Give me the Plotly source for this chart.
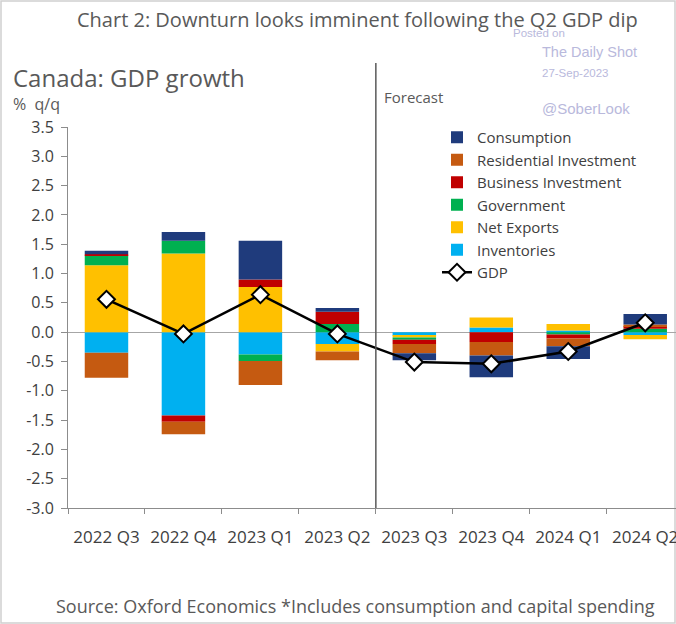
import plotly.graph_objects as go

categories = ["2022 Q3", "2022 Q4", "2023 Q1", "2023 Q2", "2023 Q3", "2023 Q4", "2024 Q1", "2024 Q2"]

inventories = [-0.35, -1.42, -0.38, -0.20, -0.06, 0.08, 0.03, -0.05]
net_exports = [1.14, 1.34, 0.77, -0.13, -0.03, 0.17, 0.11, -0.07]
government = [0.17, 0.22, -0.11, 0.14, -0.04, 0.00, -0.04, 0.06]
business_inv = [0.02, -0.11, 0.13, 0.21, -0.07, -0.17, -0.07, 0.04]
residential_inv = [-0.43, -0.21, -0.41, -0.15, -0.16, -0.23, -0.13, 0.03]
consumption = [0.06, 0.15, 0.66, 0.06, -0.12, -0.37, -0.22, 0.18]
gdp = [0.56, -0.03, 0.64, -0.03, -0.51, -0.54, -0.33, 0.16]

y_tick_vals = [3.5, 3.0, 2.5, 2.0, 1.5, 1.0, 0.5, 0.0, -0.5, -1.0, -1.5, -2.0, -2.5, -3.0]
y_tick_text = ["3.5", "3.0", "2.5", "2.0", "1.5", "1.0", "0.5", "0.0", "-0.5", "-1.0", "-1.5", "-2.0", "-2.5", "-3.0"]

W, H = 676, 624
L, R, T, B = 68, 0, 127, 116
PW, PH = W - L - R, H - T - B


def px(x):
    return (x - L) / PW


def py(y):
    return (H - B - y) / PH


FONT = "Open Sans"
TXT = "#595959"
WM = "#b9b9dc"

series = [
    ("Inventories", inventories, "#00B0F0", 6),
    ("Net Exports", net_exports, "#FFC000", 5),
    ("Government", government, "#00B050", 4),
    ("Business Investment", business_inv, "#C00000", 3),
    ("Residential Investment", residential_inv, "#C55A11", 2),
    ("Consumption", consumption, "#1F3B7C", 1),
]

fig = go.Figure()
for name, vals, col, rank in series:
    fig.add_trace(go.Bar(x=categories, y=vals, name=name, marker=dict(color=col, line=dict(width=0)),
                         legendrank=rank))

fig.add_trace(go.Scatter(x=categories, y=gdp, name="GDP", mode="lines+markers",
                         line=dict(color="black", width=2.5),
                         marker=dict(symbol="diamond", size=13, color="white",
                                     line=dict(color="black", width=2)),
                         legendrank=7))

fig.update_layout(
    width=W, height=H, autosize=False,
    margin=dict(l=L, r=R, t=T, b=B, autoexpand=False),
    paper_bgcolor="white", plot_bgcolor="white",
    barmode="relative", bargap=0.435,
    font=dict(family=FONT, color=TXT),
    showlegend=True,
    legend=dict(x=px(437), y=py(121), xanchor="left", yanchor="top",
                bgcolor="rgba(0,0,0,0)", font=dict(size=15, color="#404040"),
                itemwidth=30, tracegroupgap=0),
    xaxis=dict(type="category", range=[-0.5, 7.4], showline=True, linecolor="#8c8c8c", linewidth=1,
               ticks="outside", tickson="boundaries", ticklen=5, tickcolor="#8c8c8c",
               tickfont=dict(size=17, color="#404040"), showgrid=False, zeroline=False,
               ticklabelstandoff=14, tickangle=0, automargin=False, fixedrange=True),
    yaxis=dict(range=[-3.0, 3.5], tickvals=y_tick_vals, ticktext=y_tick_text,
               showline=True, linecolor="#8c8c8c", linewidth=1, ticks="outside", ticklen=6,
               tickcolor="#8c8c8c", tickfont=dict(size=16, color="#404040"), showgrid=False,
               zeroline=True, zerolinecolor="#a6a6a6", zerolinewidth=1, ticklabelstandoff=4,
               automargin=False, fixedrange=True),
)

# Forecast divider
fig.add_shape(type="line", xref="x", yref="paper", x0=3.5, x1=3.5, y0=0, y1=py(63),
              line=dict(color="#595959", width=1.5))
# Image border
fig.add_shape(type="rect", xref="paper", yref="paper", x0=px(1), x1=px(675), y0=py(623), y1=py(1),
              line=dict(color="#d0d0d0", width=1.5), fillcolor="rgba(0,0,0,0)", layer="below")


def note(text, x, y, size, color=TXT, family=FONT, anchor="left"):
    fig.add_annotation(text=text, x=px(x), y=py(y), xref="paper", yref="paper",
                       xanchor=anchor, yanchor="middle", showarrow=False,
                       font=dict(size=size, color=color, family=family), borderpad=0)


note("Chart 2: Downturn looks imminent following the Q2 GDP dip", 357, 19, 20, anchor="center")
note("Canada: GDP growth", 12, 78, 24)
note("%\u00a0\u00a0q/q", 12, 104, 16)
note("Forecast", 383, 97, 15)
note("Source: Oxford Economics *Includes consumption and capital spending", 355, 606, 18, anchor="center")
note("Posted on", 512, 33, 11.5, color=WM, family="Liberation Sans")
note("The Daily Shot", 541, 52, 14.5, color=WM, family="Liberation Sans")
note("27-Sep-2023", 541, 73, 11.5, color=WM, family="Liberation Sans")
note("@SoberLook", 541, 108, 15, color=WM, family="Liberation Sans")

fig.write_html("out.html", config={"displayModeBar": False},
               post_script="document.body.style.margin='0';")
